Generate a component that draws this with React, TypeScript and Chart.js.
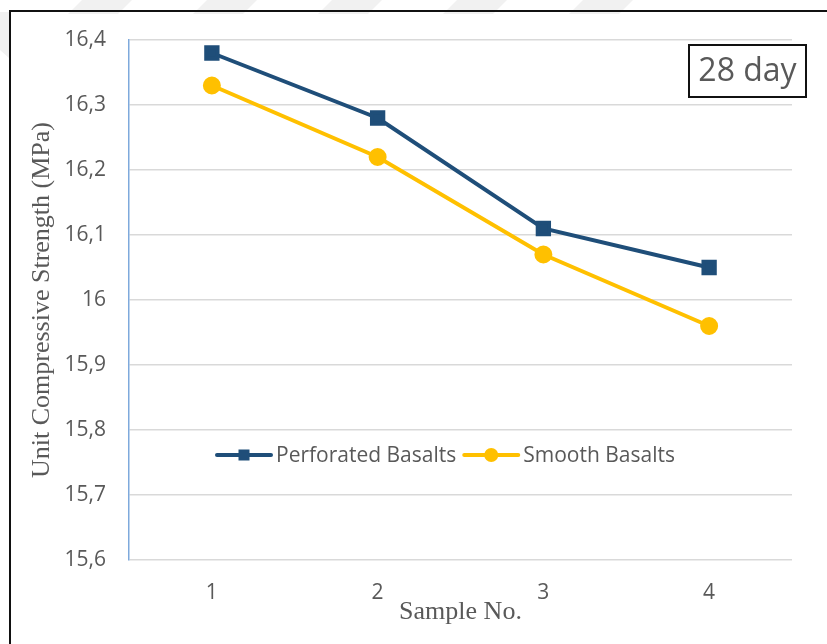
import React, { useEffect, useRef } from 'react';
import { Chart, registerables } from 'chart.js';

Chart.register(...registerables);

const categories = ['1', '2', '3', '4'];
const perforatedBasalts = [16.38, 16.28, 16.11, 16.05];
const smoothBasalts = [16.33, 16.22, 16.07, 15.96];
const seriesNames = ['Perforated Basalts', 'Smooth Basalts'];
const yMin = 15.6;
const yMax = 16.4;
const yStep = 0.1;
const yTitle = 'Unit Compressive Strength (MPa)';
const xTitle = 'Sample No.';
const badgeText = '28 day';

const BLUE = '#1F4E79';
const YELLOW = '#FFC000';
const TEXT = '#595959';

const decorPlugin = {
  id: 'decor',
  beforeDraw(chart: any) {
    const ctx = chart.ctx;
    ctx.save();
    ctx.fillStyle = '#ffffff';
    ctx.fillRect(0, 0, chart.width, chart.height);
    // faint watermark stripes
    ctx.fillStyle = '#f1f1f1';
    const starts = [82, 207, 332, 457, 583];
    starts.forEach((a) => {
      ctx.beginPath();
      ctx.moveTo(a, 0);
      ctx.lineTo(a + 50, 0);
      ctx.lineTo(a + 36, 14);
      ctx.lineTo(a - 14, 14);
      ctx.closePath();
      ctx.fill();
    });
    ctx.beginPath();
    ctx.moveTo(0, 12);
    ctx.lineTo(9, 12);
    ctx.lineTo(9, 58);
    ctx.lineTo(0, 50);
    ctx.closePath();
    ctx.fill();
    ctx.restore();
  },
  afterDraw(chart: any) {
    const ctx = chart.ctx;
    const area = chart.chartArea;
    ctx.save();
    // outer frame
    ctx.strokeStyle = '#111111';
    ctx.lineWidth = 2;
    ctx.strokeRect(10, 11, chart.width + 20, chart.height + 20);

    // legend
    ctx.font = '21px "Open Sans"';
    ctx.textBaseline = 'middle';
    ctx.textAlign = 'left';
    let x = area.left + 88;
    const y = area.top + 415;
    const colors = [BLUE, YELLOW];
    seriesNames.forEach((name, i) => {
      ctx.strokeStyle = colors[i];
      ctx.lineWidth = 4;
      ctx.lineCap = 'round';
      ctx.beginPath();
      ctx.moveTo(x, y);
      ctx.lineTo(x + 54, y);
      ctx.stroke();
      ctx.fillStyle = colors[i];
      if (i === 0) {
        ctx.fillRect(x + 27 - 5.5, y - 5.5, 11, 11);
      } else {
        ctx.beginPath();
        ctx.arc(x + 27, y, 7, 0, Math.PI * 2);
        ctx.fill();
      }
      ctx.fillStyle = TEXT;
      ctx.fillText(name, x + 59, y + 1);
      x += 59 + ctx.measureText(name).width + 8;
    });

    // badge
    const bx = area.right - 103;
    const by = area.top + 5;
    const bw = 117;
    const bh = 52;
    ctx.fillStyle = '#ffffff';
    ctx.fillRect(bx, by, bw, bh);
    ctx.strokeStyle = '#111111';
    ctx.lineWidth = 2;
    ctx.strokeRect(bx, by, bw, bh);
    ctx.fillStyle = TEXT;
    ctx.font = '32px "Open Sans"';
    ctx.textAlign = 'center';
    ctx.fillText(badgeText, bx + bw / 2, by + bh / 2 + 1);
    ctx.restore();
  },
};

function fmt(v: number) {
  const r = Math.round(v * 10) / 10;
  return String(r).replace('.', ',');
}

export default function App() {
  const ref = useRef<HTMLCanvasElement>(null);
  useEffect(() => {
    if (!ref.current) return;
    const chart = new Chart(ref.current, {
      type: 'line',
      data: {
        labels: categories,
        datasets: [
          {
            label: seriesNames[0],
            data: perforatedBasalts,
            borderColor: BLUE,
            backgroundColor: BLUE,
            borderWidth: 4,
            pointStyle: 'rect',
            pointRadius: 8,
            pointHoverRadius: 8,
            tension: 0,
          },
          {
            label: seriesNames[1],
            data: smoothBasalts,
            borderColor: YELLOW,
            backgroundColor: YELLOW,
            borderWidth: 4,
            pointStyle: 'circle',
            pointRadius: 7,
            pointHoverRadius: 7,
            tension: 0,
          },
        ],
      },
      options: {
        responsive: false,
        animation: false,
        layout: { padding: { top: 40, right: 35, left: 0, bottom: 0 } },
        plugins: {
          legend: { display: false },
          tooltip: { enabled: false },
        },
        scales: {
          x: {
            type: 'category',
            offset: true,
            grid: { display: false },
            border: { display: false },
            ticks: {
              color: TEXT,
              font: { family: '"Open Sans"', size: 21 },
              padding: 12,
            },
            title: {
              display: true,
              text: xTitle,
              color: TEXT,
              font: { family: '"Liberation Serif"', size: 26 },
              padding: { top: 0, bottom: 16 },
            },
            afterFit(scale: any) {
              scale.height = 84;
            },
          },
          y: {
            min: yMin,
            max: yMax,
            grid: { color: '#d9d9d9', lineWidth: 1.5, drawTicks: false },
            border: { display: true, color: '#7ea9dc', width: 1.5 },
            ticks: {
              stepSize: yStep,
              color: TEXT,
              font: { family: '"Open Sans"', size: 21 },
              padding: 23,
              callback: (v: any) => fmt(Number(v)),
            },
            title: {
              display: true,
              text: yTitle,
              color: TEXT,
              font: { family: '"Liberation Serif"', size: 26 },
              padding: { top: 27, bottom: 0 },
            },
            afterFit(scale: any) {
              scale.width = 129;
            },
          },
        },
      },
      plugins: [decorPlugin],
    });
    return () => chart.destroy();
  }, []);
  return (
    <div style={{ position: 'absolute', left: 0, top: 0, width: 827, height: 644 }}>
      <canvas ref={ref} width={827} height={644} style={{ display: 'block' }} />
    </div>
  );
}
